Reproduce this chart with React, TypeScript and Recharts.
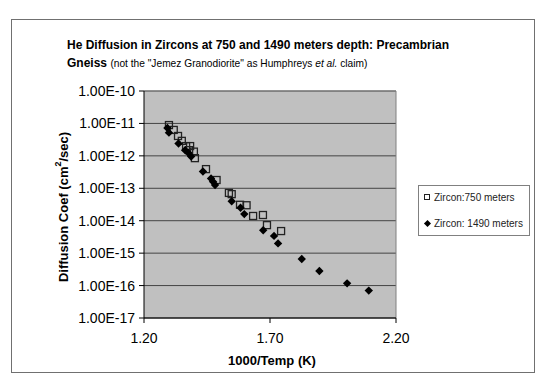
import React from 'react';
import { ScatterChart, Scatter, XAxis, YAxis, CartesianGrid, ReferenceLine } from 'recharts';

const tempInv750 = [1.299, 1.318, 1.335, 1.35, 1.367, 1.383, 1.379, 1.398, 1.402, 1.446, 1.488, 1.537, 1.548, 1.581, 1.607, 1.633, 1.672, 1.688, 1.744];
const diff750 = [8.9e-12, 6.3e-12, 4.1e-12, 2.9e-12, 2.0e-12, 2.0e-12, 1.5e-12, 1.35e-12, 8.5e-13, 3.9e-13, 1.8e-13, 7.2e-14, 6.6e-14, 3.1e-14, 3.0e-14, 1.4e-14, 1.5e-14, 7.3e-15, 4.8e-15];

const tempInv1490 = [1.293, 1.299, 1.337, 1.363, 1.375, 1.387, 1.434, 1.466, 1.474, 1.482, 1.548, 1.583, 1.598, 1.673, 1.716, 1.732, 1.826, 1.896, 2.006, 2.092];
const diff1490 = [7.2e-12, 5.2e-12, 2.4e-12, 1.5e-12, 1.26e-12, 9.5e-13, 3.3e-13, 2.0e-13, 1.6e-13, 1.26e-13, 4.0e-14, 2.5e-14, 1.6e-14, 5.1e-15, 3.4e-15, 2.0e-15, 6.6e-16, 2.8e-16, 1.17e-16, 7.0e-17];

const xTicks = [1.2, 1.7, 2.2];
const yTicks = [1e-17, 1e-16, 1e-15, 1e-14, 1e-13, 1e-12, 1e-11, 1e-10];

const seriesNames = ['Zircon:750 meters', 'Zircon: 1490 meters'];

const data750 = tempInv750.map((x, i) => ({ x, y: diff750[i] }));
const data1490 = tempInv1490.map((x, i) => ({ x, y: diff1490[i] }));

const FONT = '"Liberation Sans", Arial, sans-serif';

const SquareShape = (props: any) => {
  const { cx, cy } = props;
  if (cx == null || cy == null) return null;
  return <rect x={cx - 3.5} y={cy - 3.5} width={7} height={7} fill="none" stroke="#222" strokeWidth={1.3} />;
};

const DiamondShape = (props: any) => {
  const { cx, cy } = props;
  if (cx == null || cy == null) return null;
  const r = 4.2;
  return <polygon points={`${cx},${cy - r} ${cx + r},${cy} ${cx},${cy + r} ${cx - r},${cy}`} fill="#000" />;
};

export default function App() {
  return (
    <div style={{ position: 'absolute', left: 0, top: 0, width: 550, height: 389, background: '#fff', fontFamily: FONT }}>
      <div style={{ position: 'absolute', left: 11, top: 19, width: 522, height: 352, border: '1px solid #707070' }} />
      <div style={{ position: 'absolute', left: 67, top: 36, fontSize: 12, lineHeight: '18px', color: '#000', whiteSpace: 'nowrap' }}>
        <div style={{ fontWeight: 'bold' }}>He Diffusion in Zircons at 750 and 1490 meters depth: Precambrian</div>
        <div>
          <b>Gneiss</b>{' '}
          <span style={{ fontSize: 10.2 }}>
            (not the "Jemez Granodiorite" as Humphreys <i>et al.</i> claim)
          </span>
        </div>
      </div>
      <div style={{ position: 'absolute', left: 0, top: 0 }}>
        <ScatterChart width={550} height={389} margin={{ top: 91, right: 154, bottom: 41, left: 0 }}>
          <CartesianGrid horizontal vertical={false} stroke="#444" fill="#c0c0c0" fillOpacity={1} />
          <XAxis
            dataKey="x"
            type="number"
            domain={[1.2, 2.2]}
            ticks={xTicks}
            tickFormatter={(v: number) => v.toFixed(2)}
            stroke="#000"
            tickSize={5}
            tickMargin={10}
            tick={{ fill: '#000', fontSize: 14, fontFamily: FONT }}
            allowDataOverflow
            label={{
              content: () => (
                <text x={272} y={360} textAnchor="middle" dominantBaseline="central" fontWeight="bold" fontSize={13} fontFamily={FONT} fill="#000">
                  1000/Temp (K)
                </text>
              ),
            }}
          />
          <YAxis
            dataKey="y"
            type="number"
            scale="log"
            domain={[1e-17, 1e-10]}
            ticks={yTicks}
            allowDataOverflow
            width={144}
            tickFormatter={(v: number) => v.toExponential(2).toUpperCase().replace(/E([+-])(\d)$/, 'E$10$2')}
            stroke="#000"
            tickSize={5}
            tickMargin={4}
            tick={{ fill: '#000', fontSize: 14, fontFamily: FONT }}
            label={{
              content: () => (
                <text
                  x={63}
                  y={207}
                  transform="rotate(-90 63 207)"
                  textAnchor="middle"
                  dominantBaseline="central"
                  fontWeight="bold"
                  fontSize={13}
                  fontFamily={FONT}
                  fill="#000"
                >
                  Diffusion Coef (cm<tspan dy={-5} fontSize={9}>2</tspan>
                  <tspan dy={5}>/sec)</tspan>
                </text>
              ),
            }}
          />
          <ReferenceLine x={2.2} stroke="#808080" />
          <ReferenceLine y={1e-10} stroke="#808080" />
          <Scatter name={seriesNames[0]} data={data750} shape={SquareShape} isAnimationActive={false} />
          <Scatter name={seriesNames[1]} data={data1490} shape={DiamondShape} isAnimationActive={false} />
        </ScatterChart>
      </div>
      <div
        style={{
          position: 'absolute',
          left: 418,
          top: 185,
          width: 110,
          height: 49,
          border: '1px solid #808080',
          background: '#fff',
          fontSize: 10,
          color: '#222',
        }}
      >
        <div style={{ position: 'absolute', left: 5, top: 4, whiteSpace: 'nowrap', display: 'flex', alignItems: 'center', height: 14 }}>
          <span style={{ display: 'inline-block', width: 4, height: 4, border: '1.2px solid #222', marginRight: 4 }} />
          {seriesNames[0]}
        </div>
        <div style={{ position: 'absolute', left: 5, top: 30, whiteSpace: 'nowrap', display: 'flex', alignItems: 'center', height: 14 }}>
          <span style={{ display: 'inline-block', width: 5, height: 5, background: '#000', transform: 'rotate(45deg)', marginRight: 4, marginLeft: 1 }} />
          {seriesNames[1]}
        </div>
      </div>
    </div>
  );
}
